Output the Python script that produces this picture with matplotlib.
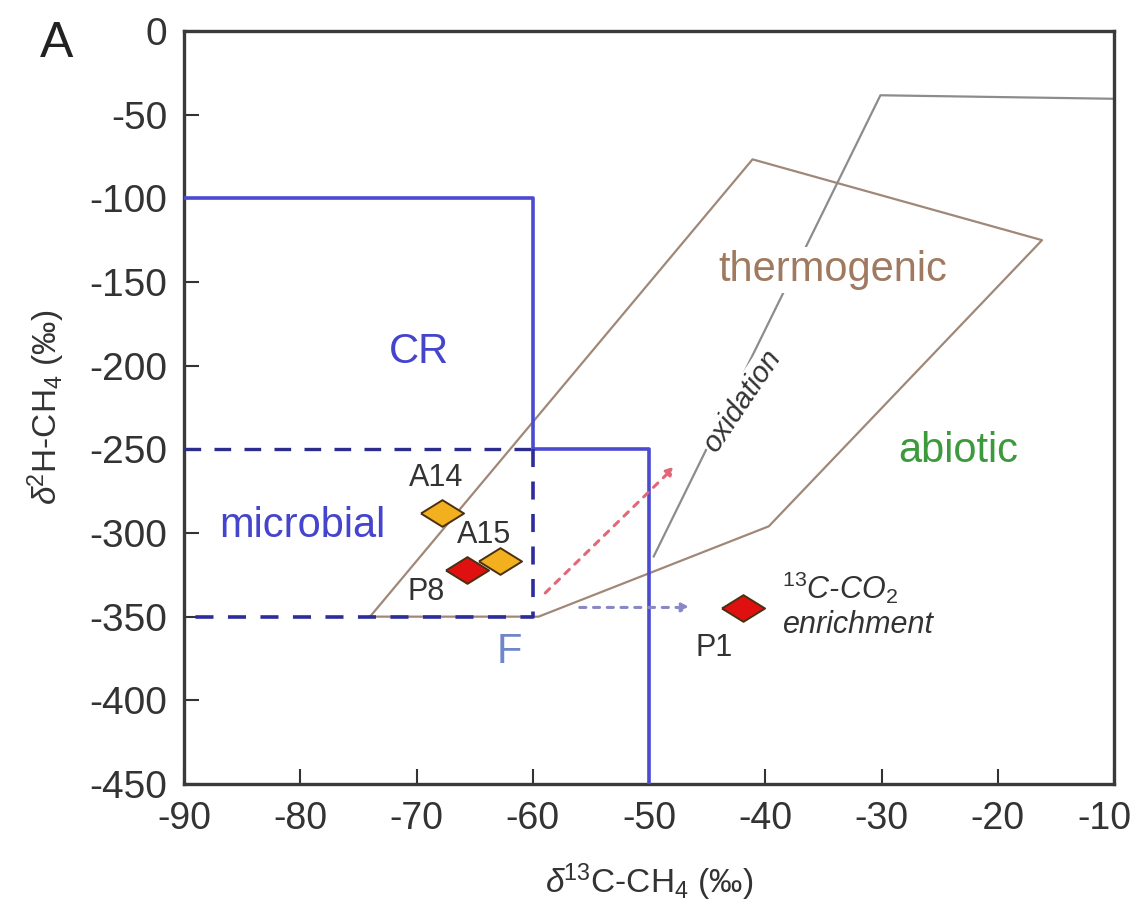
import matplotlib.pyplot as plt
import matplotlib.transforms as mtransforms
from matplotlib.path import Path

plt.rcParams['font.family'] = ['Liberation Sans', 'DejaVu Sans']
plt.rcParams['mathtext.fontset'] = 'custom'
plt.rcParams['mathtext.rm'] = 'Liberation Sans'
plt.rcParams['mathtext.it'] = 'Liberation Sans:italic'
plt.rcParams['axes.unicode_minus'] = False

# muestras
names = ['A14', 'A15', 'P8', 'P1']
d13c = [-67.8, -62.8, -65.7, -41.9]
d2h = [-288, -317, -322, -345]
fill_colors = ['#f2b01e', '#f2b01e', '#e01010', '#e01010']

# campos de clasificacion
cr_x = [-90, -60, -60, -50, -50]
cr_y = [-100, -100, -250, -250, -450]
micro_x = [-90, -60, -60, -90]
micro_y = [-250, -250, -350, -350]
thermo_x = [-74, -41.1, -16.2, -39.7, -59.5, -74]
thermo_y = [-350, -76.7, -125, -296, -350, -350]
abiotic_x = [-49.6, -30.1, -10]
abiotic_y = [-314, -38.4, -40.5]

# flechas (inicio, fin)
oxid_arrow = [(-59.1, -337), (-47.6, -259)]
co2_arrow = [(-56.2, -344.5), (-46.2, -344.5)]

fig = plt.figure(figsize=(11.38, 9.15), dpi=100)
ax = fig.add_axes([0.1617, 0.1432, 0.8173, 0.8229])

ax.plot(thermo_x, thermo_y, color='#a08878', lw=1.6, zorder=2)
ax.plot(abiotic_x, abiotic_y, color='#8c8c8c', lw=1.6, zorder=2)
ax.plot(cr_x, cr_y, color='#4a4ad2', lw=2.6, zorder=3)
ax.plot(micro_x[:2], micro_y[:2], color='#2c2c8c', lw=2.4, ls=(0, (5, 4)), zorder=3)
ax.plot(micro_x[1:], micro_y[1:], color='#2c2c9c', lw=2.6, ls=(0, (5, 4)), zorder=3)

ax.annotate('', xy=oxid_arrow[1], xytext=oxid_arrow[0],
            arrowprops=dict(arrowstyle='-|>,head_length=0.5,head_width=0.25',
                            color='#e06878', lw=2.2, ls=(0, (2, 2.5))), zorder=4)
ax.annotate('', xy=co2_arrow[1], xytext=co2_arrow[0],
            arrowprops=dict(arrowstyle='-|>,head_length=0.5,head_width=0.25',
                            color='#8888c8', lw=2.2, ls=(0, (2, 2.5))), zorder=4)

diamond = Path([(-1, 0), (0, 0.62), (1, 0), (0, -0.62), (-1, 0)])
for i in range(len(names)):
    ax.plot(d13c[i], d2h[i], marker=diamond, ms=31, mfc=fill_colors[i],
            mec='#4a3010', mew=1.4, ls='none', zorder=6)

label_pos = {'A14': (-68.3, -267), 'A15': (-64.2, -301), 'P8': (-69.2, -335),
             'P1': (-44.4, -369)}
for n in names:
    ax.text(label_pos[n][0], label_pos[n][1], n, fontsize=22, color='#333333',
            ha='center', va='center', zorder=7)

ax.text(-69.8, -192, 'CR', fontsize=30, color='#4444cc', ha='center', va='center')
ax.text(-79.8, -296, 'microbial', fontsize=30, color='#4444cc', ha='center', va='center')
ax.text(-62, -371, 'F', fontsize=30, color='#6f86c8', ha='center', va='center')
ax.text(-34.2, -143, 'thermogenic', fontsize=30, color='#a07a60', ha='center', va='center',
        bbox=dict(fc='white', ec='none', pad=2), zorder=5)
ax.text(-23.4, -251, 'abiotic', fontsize=30, color='#3c9a3c', ha='center', va='center')
ax.text(-42.0, -221, 'oxidation', fontsize=21, style='italic', color='#333333',
        rotation=56, ha='center', va='center',
        bbox=dict(fc='white', ec='none', pad=1), zorder=5)
ax.text(-33.6, -333, r'$^{13}$C-CO$_{2}$', fontsize=22, style='italic', color='#333333',
        ha='center', va='center')
ax.text(-32.0, -355, 'enrichment', fontsize=22, style='italic', color='#333333',
        ha='center', va='center')

ax.set_xlim(-90, -10)
ax.set_ylim(-450, 0)
ax.set_xticks(range(-90, -9, 10))
ax.set_yticks(range(-450, 1, 50))
ax.tick_params(direction='in', length=11, width=1.5, labelsize=28, colors='#333333',
               pad=12, top=False, right=False)
ax.tick_params(axis='x', labelsize=27)
for s in ax.spines.values():
    s.set_linewidth(2.4)
    s.set_color('#3a3a3a')

# mover un poco la ultima etiqueta para que no se corte
last = ax.get_xticklabels()[-1]
last.set_transform(last.get_transform() +
                   mtransforms.ScaledTranslation(-10 / 100, 0, fig.dpi_scale_trans))

ax.set_xlabel(r'$\it{\delta}$$^{13}$C-CH$_4$ (‰)', fontsize=24, color='#333333', labelpad=18)
ax.set_ylabel(r'$\it{\delta}$$^{2}$H-CH$_4$ (‰)', fontsize=24, color='#333333', labelpad=16)

fig.text(0.05, 0.952, 'A', fontsize=36, color='#222222', ha='center', va='center')

fig.savefig('out.png', dpi=100)
